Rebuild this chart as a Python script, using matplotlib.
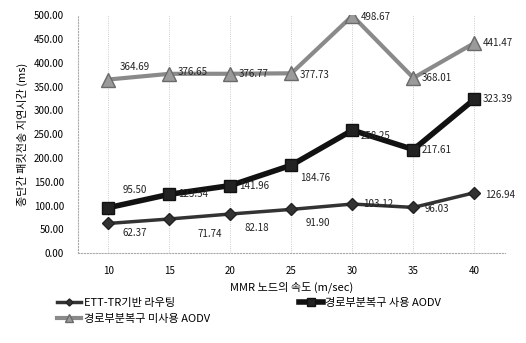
import matplotlib
matplotlib.use("Agg")
import matplotlib.pyplot as plt

plt.rcParams['font.family'] = ['Noto Sans CJK KR', 'DejaVu Sans']

speeds = ['10', '15', '20', '25', '30', '35', '40']
ett_tr = [62.37, 71.74, 82.18, 91.90, 103.12, 96.03, 126.94]
aodv_rec = [95.50, 123.54, 141.96, 184.76, 258.25, 217.61, 323.39]
aodv_norec = [364.69, 376.65, 376.77, 377.73, 498.67, 368.01, 441.47]
names = ['ETT-TR기반 라우팅', '경로부분복구 사용 AODV', '경로부분복구 미사용 AODV']
yticks = [0, 50, 100, 150, 200, 250, 300, 350, 400, 450, 500]

fig = plt.figure(figsize=(5.26, 3.43), dpi=100)
ax = fig.add_axes([0.148, 0.262, 0.812, 0.694])
x = list(range(len(speeds)))

l1, = ax.plot(x, ett_tr, color='#333333', lw=2.5, marker='D', ms=6, mec='#222222', mfc='#333333', zorder=3)
l2, = ax.plot(x, aodv_rec, color='#111111', lw=4, marker='s', ms=9, mec='#111111', mfc='#222222', zorder=3)
l3, = ax.plot(x, aodv_norec, color='#8a8a8a', lw=3, marker='^', ms=10, mec='#6a6a6a', mfc='#9a9a9a', zorder=3)

def lab(xi, v, dx, dy):
    ax.annotate(f'{v:.2f}', (xi, v), xytext=(dx, dy), textcoords='offset points',
                ha='left', va='center', fontsize=7, color='#222222', zorder=4)

offs1 = [(10, -7), (20, -11), (10, -10), (10, -10), (8, 0), (8, -1), (8, -2)]
for i, v in enumerate(ett_tr):
    lab(i, v, *offs1[i])
offs2 = [(10, 13), (6, 0), (6, 0), (6, -9), (6, -4), (6, 0), (6, 0)]
for i, v in enumerate(aodv_rec):
    lab(i, v, *offs2[i])
offs3 = [(8, 9), (6, 1), (6, 0), (6, -1), (6, -1), (6, 0), (6, 0)]
for i, v in enumerate(aodv_norec):
    lab(i, v, *offs3[i])

ax.set_xlim(-0.5, 6.5)
ax.set_ylim(0, 500)
ax.set_xticks(x)
ax.set_xticklabels(speeds, fontsize=7)
ax.set_yticks(yticks)
ax.set_yticklabels([f'{t:.2f}' for t in yticks], fontsize=7)
ax.tick_params(length=0, pad=10)
ax.tick_params(axis='x', pad=9)
for s in ['top', 'right']:
    ax.spines[s].set_visible(False)
for s in ['left', 'bottom']:
    ax.spines[s].set_color('#aaaaaa')
    ax.spines[s].set_linestyle(':')
    ax.spines[s].set_linewidth(0.8)
ax.grid(axis='x', color='#bbbbbb', ls=':', lw=0.6)
ax.set_axisbelow(True)

ax.set_xlabel('MMR 노드의 속도 (m/sec)', fontsize=8, labelpad=4)
ax.set_ylabel('종단간 패킷전송 지연시간 (ms)', fontsize=8, labelpad=4)

fig.legend([l1, l3, l2], [names[0], names[2], names[1]], loc='upper left',
           bbox_to_anchor=(0.1, 0.145), ncol=2,
           frameon=False, fontsize=8, handlelength=2.2, handletextpad=0.2,
           columnspacing=8, labelspacing=0.55, markerscale=0.6, borderaxespad=0)

fig.savefig('out.png', dpi=100)
